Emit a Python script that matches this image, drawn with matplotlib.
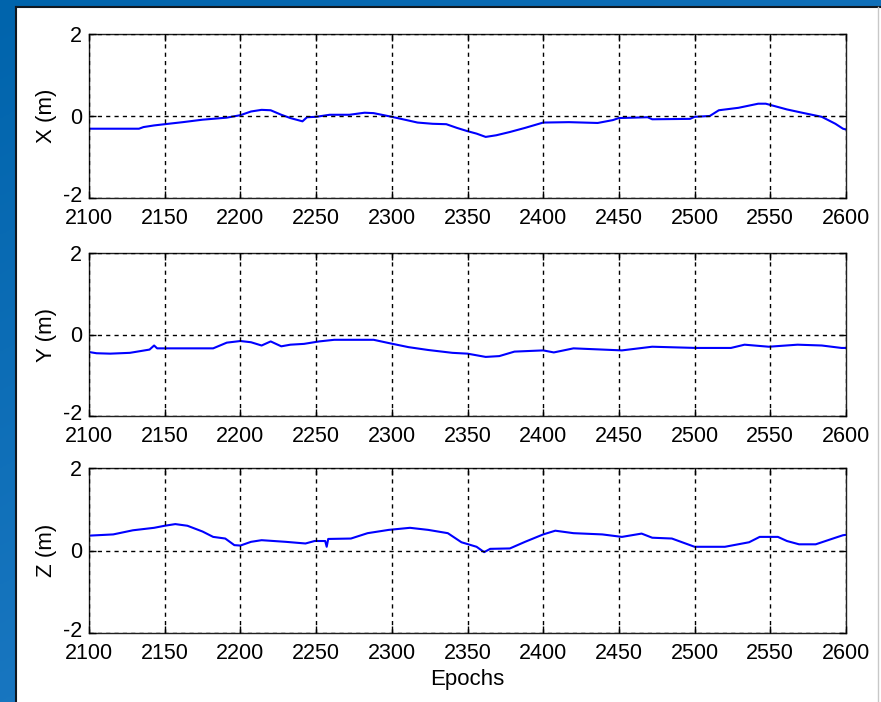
import numpy as np
import matplotlib
matplotlib.use("Agg")
import matplotlib.pyplot as plt
from matplotlib.patches import Rectangle
from matplotlib.lines import Line2D
from matplotlib.transforms import ScaledTranslation

plt.rcParams['font.family'] = ['Liberation Sans', 'DejaVu Sans']

# Position error components (m) against epoch number
x_epochs = [2100, 2133, 2136, 2143, 2150, 2162, 2175, 2191, 2200, 2207, 2214, 2220,
            2227, 2233, 2241, 2244, 2250, 2259, 2272, 2282, 2288, 2300, 2311, 2317,
            2327, 2336, 2343, 2350, 2356, 2362, 2369, 2378, 2388, 2400, 2417, 2436,
            2446, 2450, 2469, 2472, 2497, 2500, 2510, 2516, 2529, 2542, 2547, 2555,
            2561, 2571, 2584, 2593, 2598, 2600]
x_err = [-0.31, -0.31, -0.27, -0.23, -0.20, -0.15, -0.09, -0.04, 0.02, 0.11, 0.15, 0.14,
         0.03, -0.05, -0.13, -0.03, -0.02, 0.03, 0.03, 0.08, 0.07, -0.02, -0.11, -0.16,
         -0.19, -0.20, -0.29, -0.37, -0.43, -0.51, -0.47, -0.39, -0.29, -0.16, -0.15, -0.17,
         -0.10, -0.05, -0.03, -0.08, -0.07, -0.02, 0.00, 0.14, 0.20, 0.30, 0.30, 0.22,
         0.16, 0.08, -0.02, -0.19, -0.31, -0.33]

y_epochs = [2100, 2105, 2114, 2127, 2140, 2143, 2145, 2182, 2191, 2200, 2207, 2214,
            2220, 2227, 2233, 2242, 2252, 2262, 2288, 2298, 2311, 2324, 2340, 2350,
            2362, 2371, 2381, 2400, 2407, 2420, 2452, 2472, 2501, 2524, 2533, 2549,
            2568, 2584, 2597, 2600]
y_err = [-0.43, -0.46, -0.47, -0.45, -0.37, -0.27, -0.34, -0.34, -0.20, -0.16, -0.19, -0.27,
         -0.17, -0.29, -0.25, -0.23, -0.17, -0.13, -0.13, -0.21, -0.31, -0.38, -0.45, -0.47,
         -0.55, -0.53, -0.42, -0.39, -0.44, -0.34, -0.39, -0.30, -0.33, -0.33, -0.25, -0.30,
         -0.25, -0.27, -0.33, -0.33]

z_epochs = [2100, 2116, 2129, 2143, 2150, 2157, 2165, 2175, 2182, 2190, 2196, 2200,
            2207, 2214, 2230, 2243, 2249, 2256, 2257, 2258, 2273, 2284, 2298, 2312,
            2324, 2337, 2346, 2356, 2361, 2365, 2378, 2388, 2400, 2408, 2420, 2439,
            2452, 2465, 2472, 2485, 2500, 2520, 2536, 2543, 2555, 2561, 2569, 2580,
            2593, 2598, 2600]
z_err = [0.36, 0.39, 0.49, 0.55, 0.60, 0.64, 0.60, 0.46, 0.33, 0.29, 0.13, 0.12,
         0.21, 0.25, 0.21, 0.17, 0.23, 0.23, 0.09, 0.28, 0.29, 0.42, 0.50, 0.55,
         0.50, 0.42, 0.20, 0.09, -0.04, 0.04, 0.05, 0.21, 0.39, 0.48, 0.42, 0.39,
         0.33, 0.41, 0.31, 0.29, 0.09, 0.09, 0.20, 0.33, 0.33, 0.23, 0.15, 0.15,
         0.31, 0.37, 0.38]

series = [(x_epochs, x_err, 'X (m)'),
          (y_epochs, y_err, 'Y (m)'),
          (z_epochs, z_err, 'Z (m)')]

x_ticks = list(range(2100, 2601, 50))
y_ticks = [-2, 0, 2]

W, H = 881, 702
fig = plt.figure(figsize=(W / 100, H / 100), dpi=100)

# Slide background: blue gradient
bg = fig.add_axes([0, 0, 1, 1], zorder=-10)
bg.set_axis_off()
grad = np.linspace(0, 1, 256)
gx, gy = np.meshgrid(grad, grad)
top = np.array([0, 100, 172]) / 255
bot = np.array([40, 130, 205]) / 255
t = (0.6 * gy + 0.4 * gx)[..., None]
img = top * (1 - t) + bot * t
bg.imshow(img, extent=[0, 1, 0, 1], aspect='auto', origin='upper')
bg.set_xlim(0, 1)
bg.set_ylim(0, 1)

# White figure panel with dark frame
px0, py0 = 16 / W, 0
pw, ph = (W - 16) / W, (H - 7) / H
bg.add_patch(Rectangle((px0, py0), pw, ph, facecolor='white', edgecolor='none'))
bg.add_line(Line2D([px0, px0], [0, ph], color='#101820', lw=1.5))
bg.add_line(Line2D([px0, 1], [ph, ph], color='#101820', lw=1.5))
bg.add_line(Line2D([878 / W, 878 / W], [0, ph], color='#c8c8c8', lw=1.0))

boxes = [(34, 198), (253, 416), (468, 633)]
left, right = 89 / W, 846 / W

# lift the lowest y tick label a little so it clears the first x tick label
lift = ScaledTranslation(0, 4 / 100, fig.dpi_scale_trans)

for (ep, val, lab), (ytop, ybot) in zip(series, boxes):
    ax = fig.add_axes([left, 1 - ybot / H, right - left, (ybot - ytop) / H])
    ax.plot(ep, val, color='#0000ff', lw=1.5)
    ax.set_xlim(2100, 2600)
    ax.set_ylim(-2, 2)
    ax.set_xticks(x_ticks)
    ax.set_yticks(y_ticks)
    ax.set_xticklabels([str(v) for v in x_ticks])
    ax.set_yticklabels(['-2', '0', '2'])
    ax.tick_params(direction='in', length=5, width=1, labelsize=15.5,
                   top=True, right=True, colors='black', pad=5)
    ax.tick_params(axis='x', pad=7)
    ax.grid(True, color='black', linestyle=(0, (3, 3)), linewidth=1.0)
    for s in ax.spines.values():
        s.set_linewidth(1.0)
        s.set_color('#202020')
    ax.set_ylabel(lab, fontsize=16, labelpad=4)
    ax.set_axisbelow(False)
    lowest = ax.get_yticklabels()[0]
    lowest.set_transform(lowest.get_transform() + lift)
    if lab.startswith('Z'):
        ax.set_xlabel('Epochs', fontsize=16, labelpad=4)

fig.savefig('out.png', dpi=100)
